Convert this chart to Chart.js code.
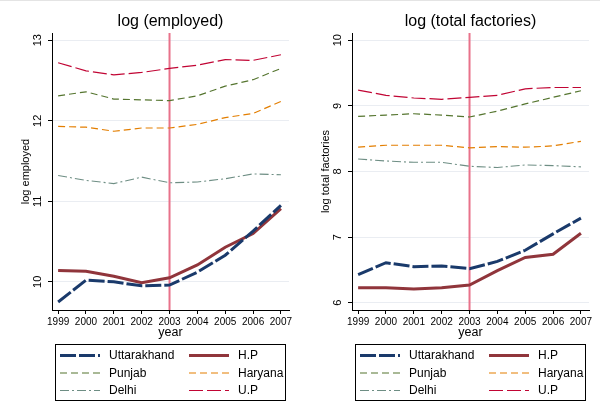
<!DOCTYPE html>
<html>
<head>
<meta charset="utf-8">
<script src="https://cdn.jsdelivr.net/npm/chart.js@4.4.1/dist/chart.umd.min.js"></script>
<style>
  html, body { margin: 0; padding: 0; background: #fff; }
  #wrap { position: relative; width: 600px; height: 410px; border-top: 1px solid #e4e4e4; box-sizing: border-box; }
  .panel { position: absolute; top: 0; width: 300px; height: 410px; }
  #p1 { left: 0; }
  #p2 { left: 300px; }
</style>
</head>
<body>
<div id="wrap">
  <div class="panel" id="p1"><canvas id="chartEmployed" width="300" height="410"></canvas></div>
  <div class="panel" id="p2"><canvas id="chartFactories" width="300" height="410"></canvas></div>
</div>
<script>
// years on the x axis
const years = [1999, 2000, 2001, 2002, 2003, 2004, 2005, 2006, 2007];
const states = ["Uttarakhand", "H.P", "Punjab", "Haryana", "Delhi", "U.P"];
const breakYear = 2003;

// log (employed)
const empUttarakhand = [9.75, 10.02, 10.0, 9.95, 9.96, 10.12, 10.33, 10.63, 10.95];
const empHP = [10.14, 10.13, 10.07, 9.99, 10.05, 10.21, 10.43, 10.6, 10.91];
const empPunjab = [12.31, 12.36, 12.27, 12.26, 12.25, 12.31, 12.43, 12.51, 12.65];
const empHaryana = [11.93, 11.92, 11.87, 11.91, 11.91, 11.955, 12.04, 12.09, 12.24];
const empDelhi = [11.32, 11.26, 11.22, 11.3, 11.23, 11.24, 11.28, 11.34, 11.33];
const empUP = [12.72, 12.62, 12.57, 12.6, 12.65, 12.69, 12.76, 12.75, 12.82];
const empTicks = [10, 11, 12, 13];

// log (total factories)
const facUttarakhand = [6.43, 6.61, 6.55, 6.56, 6.52, 6.63, 6.8, 7.05, 7.29];
const facHP = [6.23, 6.23, 6.21, 6.23, 6.27, 6.49, 6.69, 6.74, 7.06];
const facPunjab = [8.84, 8.86, 8.88, 8.86, 8.83, 8.92, 9.03, 9.13, 9.23];
const facHaryana = [8.37, 8.4, 8.4, 8.4, 8.36, 8.38, 8.37, 8.39, 8.46];
const facDelhi = [8.19, 8.16, 8.14, 8.14, 8.08, 8.06, 8.1, 8.09, 8.07];
const facUP = [9.24, 9.16, 9.12, 9.1, 9.13, 9.16, 9.26, 9.28, 9.28];
const facTicks = [6, 7, 8, 9, 10];

// line styles for each state
const colors = ["#1a3a6b", "#90353b", "#55752f", "#e37e00", "#6e8e84", "#c10534"];
const widths = [3, 3, 1.2, 1.2, 1.1, 1.2];
const dashes = [[16, 3], [], [7, 4], [7, 4], [9, 3, 2, 3], [14, 4]];

const FONT = "'Liberation Sans', Arial, Helvetica, sans-serif";

// pink vertical line at 2003
const breakLine = {
  id: "breakLine",
  beforeDatasetsDraw(chart) {
    const ctx = chart.ctx;
    const x = chart.scales.x.getPixelForValue(breakYear);
    ctx.save();
    ctx.strokeStyle = "#e8728a";
    ctx.lineWidth = 2;
    ctx.beginPath();
    ctx.moveTo(x, chart.chartArea.top);
    ctx.lineTo(x, chart.chartArea.bottom);
    ctx.stroke();
    ctx.restore();
  },
};

// title centred over the plot region (not the whole canvas)
const plotTitle = {
  id: "plotTitle",
  afterDraw(chart, args, opts) {
    const ctx = chart.ctx;
    const area = chart.chartArea;
    ctx.save();
    ctx.font = "16px " + FONT;
    ctx.fillStyle = "#000";
    ctx.textAlign = "center";
    ctx.textBaseline = "middle";
    ctx.fillText(opts.text, (area.left + area.right) / 2, 21);
    ctx.restore();
  },
};

// boxed legend with two columns under the plot
const boxLegend = {
  id: "boxLegend",
  afterDraw(chart) {
    const ctx = chart.ctx;
    const x0 = chart.chartArea.left + 3;
    const y0 = 343;
    ctx.save();
    ctx.strokeStyle = "#000";
    ctx.lineWidth = 1;
    ctx.strokeRect(x0 + 0.5, y0 + 0.5, 230, 56);
    ctx.font = "12px " + FONT;
    ctx.textBaseline = "middle";
    ctx.fillStyle = "#000";
    chart.data.datasets.forEach((ds, i) => {
      const col = i % 2;
      const row = Math.floor(i / 2);
      const sx = x0 + 5 + col * 129;
      const sy = y0 + 11.5 + row * 17.5;
      ctx.save();
      ctx.strokeStyle = ds.borderColor;
      ctx.lineWidth = ds.borderWidth;
      ctx.setLineDash(ds.borderDash);
      ctx.beginPath();
      ctx.moveTo(sx, sy);
      ctx.lineTo(sx + 40, sy);
      ctx.stroke();
      ctx.restore();
      ctx.fillText(ds.label, sx + 49, sy + 0.5);
    });
    ctx.restore();
  },
};

function buildDatasets(series) {
  return states.map((name, i) => ({
    label: name,
    data: years.map((yr, k) => ({ x: yr, y: series[i][k] })),
    borderColor: colors[i],
    borderWidth: widths[i],
    borderDash: dashes[i],
    pointRadius: 0,
    tension: 0,
    fill: false,
  }));
}

function makeChart(id, title, yTitle, series, yMin, yMax, yTicks) {
  return new Chart(document.getElementById(id), {
    type: "line",
    data: { datasets: buildDatasets(series) },
    plugins: [breakLine, plotTitle, boxLegend],
    options: {
      responsive: false,
      animation: false,
      layout: { padding: { top: 32, right: 11, bottom: 69, left: 0 } },
      plugins: {
        legend: { display: false },
        tooltip: { enabled: false },
        title: { display: false },
        plotTitle: { text: title },
      },
      scales: {
        x: {
          type: "linear",
          min: 1998.78,
          max: 2007.29,
          afterBuildTicks: (s) => { s.ticks = years.map((v) => ({ value: v })); },
          afterFit: (s) => { s.height = 32; },
          ticks: {
            callback: (v) => String(v),
            color: "#000",
            font: { family: FONT, size: 10 },
            padding: 2,
            maxRotation: 0,
            autoSkip: false,
          },
          grid: { drawOnChartArea: false, tickLength: 4, tickColor: "#000" },
          border: { color: "#000", width: 1 },
          title: {
            display: true,
            text: "year",
            color: "#000",
            font: { family: FONT, size: 12.5 },
            padding: { top: 0, bottom: 2 },
          },
        },
        y: {
          min: yMin,
          max: yMax,
          afterBuildTicks: (s) => { s.ticks = yTicks.map((v) => ({ value: v })); },
          afterFit: (s) => { s.width = 52; },
          ticks: {
            callback: (v) => String(v),
            color: "#000",
            font: { family: FONT, size: 11 },
            minRotation: 90,
            maxRotation: 90,
            crossAlign: "center",
            padding: 4,
          },
          grid: { color: "#eaedf2", tickLength: 4, tickColor: "#000" },
          border: { color: "#000", width: 1 },
          title: {
            display: true,
            text: yTitle,
            color: "#000",
            font: { family: FONT, size: 11 },
            padding: { top: 19, bottom: 0 },
          },
        },
      },
    },
  });
}

makeChart(
  "chartEmployed",
  "log (employed)",
  "log employed",
  [empUttarakhand, empHP, empPunjab, empHaryana, empDelhi, empUP],
  9.65, 13.09, empTicks
);

makeChart(
  "chartFactories",
  "log (total factories)",
  "log total factories",
  [facUttarakhand, facHP, facPunjab, facHaryana, facDelhi, facUP],
  5.89, 10.11, facTicks
);
</script>
</body>
</html>
